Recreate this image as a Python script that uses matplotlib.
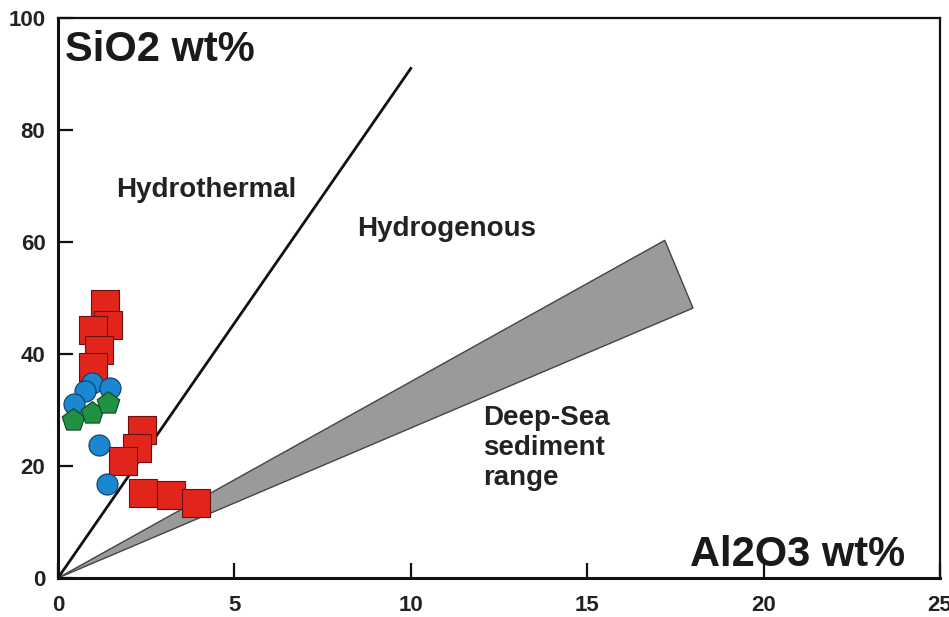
import matplotlib
matplotlib.use("Agg")
import matplotlib.pyplot as plt
from matplotlib.patches import Polygon

plt.rcParams['font.family'] = ['Liberation Sans', 'DejaVu Sans']

# Boundary line (hydrothermal / hydrogenous) and deep-sea sediment wedge
line_x = [0, 10]
line_y = [0, 91]
wedge_x = [0, 17.2, 18.0]
wedge_y = [0, 60.3, 48.2]

# Data
sq_x = [1.33, 1.43, 0.98, 1.17, 0.98, 2.37, 2.23, 1.85, 2.40, 3.20, 3.91]
sq_y = [48.9, 45.2, 44.3, 40.8, 37.6, 26.5, 23.2, 20.9, 15.2, 14.8, 13.4]
ci_x = [0.97, 0.77, 1.47, 0.45, 1.16, 1.40]
ci_y = [34.8, 33.4, 33.9, 31.0, 23.75, 16.8]
pe_x = [0.43, 0.97, 1.43]
pe_y = [28.2, 29.4, 31.2]

xticks = [0, 5, 10, 15, 20, 25]
yticks = [0, 20, 40, 60, 80, 100]

fig = plt.figure(figsize=(9.49, 6.17), dpi=100)
ax = fig.add_axes([0.0611, 0.0632, 0.9294, 0.9076])
ax.set_xlim(0, 25)
ax.set_ylim(0, 100)

ax.add_patch(Polygon(list(zip(wedge_x, wedge_y)), closed=True,
                     facecolor='#9a9a9a', edgecolor='#444444', lw=1.0, zorder=2))
ax.plot(line_x, line_y, color='#111111', lw=2.0, zorder=3)

ax.scatter(sq_x, sq_y, marker='s', s=400, c='#e1251b', edgecolors='#6a1010',
           linewidths=0.8, zorder=4)
ax.scatter(ci_x, ci_y, marker='o', s=230, c='#1b87d0', edgecolors='#0d3c66',
           linewidths=0.8, zorder=5)
ax.scatter(pe_x, pe_y, marker='p', s=290, c='#1f9140', edgecolors='#0c4420',
           linewidths=0.8, zorder=6)

ax.set_xticks(xticks)
ax.set_yticks(yticks)
ax.tick_params(direction='in', length=11, width=1.6, labelsize=16, color='#111111')
ax.tick_params(axis='x', pad=12)
ax.tick_params(axis='y', pad=9)
for lab in ax.get_xticklabels() + ax.get_yticklabels():
    lab.set_fontweight('bold')
    lab.set_color('#222222')
for s in ax.spines.values():
    s.set_linewidth(2.2)
    s.set_color('#111111')
ax.spines['right'].set_linewidth(1.6)
ax.spines['top'].set_linewidth(1.6)

ax.text(0.2, 94.3, 'SiO2 wt%', fontsize=30, fontweight='bold', color='#1a1a1a',
        ha='left', va='center')
ax.text(24.0, 4.1, 'Al2O3 wt%', fontsize=30, fontweight='bold', color='#1a1a1a',
        ha='right', va='center')
ax.text(4.2, 69.3, 'Hydrothermal', fontsize=20, fontweight='bold', color='#222222',
        ha='center', va='center')
ax.text(11.03, 62.3, 'Hydrogenous', fontsize=20, fontweight='bold', color='#222222',
        ha='center', va='center')
ax.text(12.05, 23.2, 'Deep-Sea\nsediment\nrange', fontsize=20, fontweight='bold',
        color='#222222', ha='left', va='center', linespacing=1.2)

fig.savefig('out.png', dpi=100)
